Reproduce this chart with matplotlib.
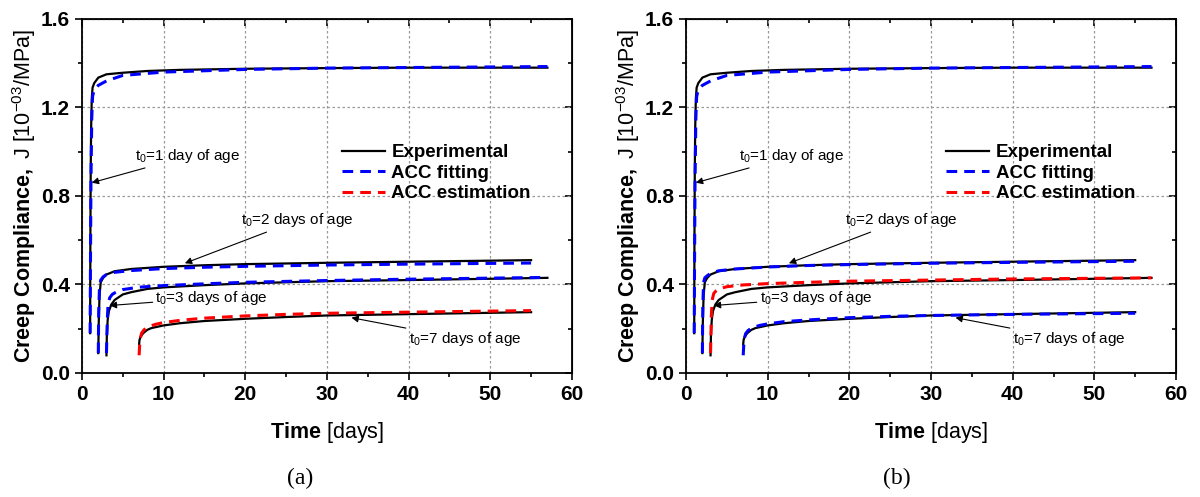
import numpy as np
import matplotlib.pyplot as plt
from matplotlib.lines import Line2D

plt.rcParams['font.family'] = ['Liberation Sans', 'DejaVu Sans']
plt.rcParams['mathtext.fontset'] = 'custom'
plt.rcParams['mathtext.rm'] = 'Liberation Sans'
plt.rcParams['mathtext.it'] = 'Liberation Sans:italic'
plt.rcParams['mathtext.bf'] = 'Liberation Sans:bold'

# ---- data (time in days, J in 1e-3/MPa) ----
# t0 = 1 day
exp1_t = [1.0, 1.03, 1.07, 1.12, 1.2, 1.3, 1.5, 2.0, 3.0, 5.0, 8.0, 12.0, 20.0, 30.0, 40.0, 57.0]
exp1_j = [0.18, 0.60, 0.90, 1.10, 1.24, 1.29, 1.31, 1.335, 1.35, 1.357, 1.365, 1.37, 1.375, 1.378, 1.38, 1.38]
fit1_t = [1.0, 1.05, 1.1, 1.2, 1.3, 1.5, 2.0, 3.0, 5.0, 10.0, 20.0, 30.0, 57.0]
fit1_j = [0.18, 0.55, 0.85, 1.15, 1.25, 1.28, 1.30, 1.32, 1.345, 1.36, 1.372, 1.378, 1.385]

# t0 = 2 days
exp2_t = [2.0, 2.05, 2.15, 2.3, 2.6, 3.0, 4.0, 6.0, 10.0, 15.0, 20.0, 30.0, 40.0, 55.0]
exp2_j = [0.09, 0.22, 0.35, 0.41, 0.43, 0.445, 0.46, 0.47, 0.48, 0.487, 0.492, 0.498, 0.503, 0.51]
fit2a_j = [0.09, 0.28, 0.39, 0.42, 0.435, 0.445, 0.455, 0.463, 0.472, 0.478, 0.482, 0.488, 0.492, 0.497]
fit2b_j = [0.09, 0.30, 0.41, 0.43, 0.44, 0.45, 0.462, 0.47, 0.479, 0.486, 0.49, 0.496, 0.50, 0.505]

# t0 = 3 days
exp3_t = [3.0, 3.05, 3.15, 3.3, 3.6, 4.0, 5.0, 6.0, 8.0, 10.0, 15.0, 20.0, 30.0, 40.0, 57.0]
exp3_j = [0.08, 0.17, 0.24, 0.28, 0.31, 0.33, 0.355, 0.365, 0.38, 0.387, 0.397, 0.405, 0.415, 0.42, 0.43]
fit3_t = [3.0, 3.1, 3.2, 3.4, 3.7, 4.0, 5.0, 7.0, 10.0, 15.0, 20.0, 30.0, 40.0, 57.0]
fit3a_j = [0.09, 0.24, 0.31, 0.34, 0.355, 0.362, 0.377, 0.388, 0.395, 0.403, 0.41, 0.418, 0.424, 0.432]
fit3b_j = [0.09, 0.26, 0.33, 0.36, 0.372, 0.38, 0.39, 0.398, 0.404, 0.41, 0.415, 0.42, 0.425, 0.43]

# t0 = 7 days
exp7_t = [7.0, 7.05, 7.2, 7.5, 8.0, 8.5, 10.0, 12.0, 15.0, 20.0, 25.0, 30.0, 40.0, 55.0]
exp7_j = [0.13, 0.15, 0.165, 0.18, 0.195, 0.203, 0.215, 0.225, 0.235, 0.245, 0.253, 0.26, 0.266, 0.275]
fit7_t = [7.0, 7.1, 7.3, 7.6, 8.0, 9.0, 10.0, 12.0, 15.0, 20.0, 25.0, 30.0, 40.0, 55.0]
fit7a_j = [0.08, 0.15, 0.18, 0.195, 0.207, 0.22, 0.228, 0.238, 0.248, 0.258, 0.265, 0.27, 0.275, 0.282]
fit7b_j = [0.08, 0.15, 0.178, 0.192, 0.203, 0.215, 0.222, 0.232, 0.24, 0.25, 0.256, 0.26, 0.265, 0.27]

labels = ['Experimental', 'ACC fitting', 'ACC estimation']
panel_tags = ['(a)', '(b)']

# annotation text / arrow tip / text position
notes = [
    (r't$_0$=1 day of age', (1.2, 0.86), (6.5, 0.98)),
    (r't$_0$=2 days of age', (12.6, 0.496), (19.5, 0.69)),
    (r't$_0$=3 days of age', (3.4, 0.305), (9.0, 0.34)),
    (r't$_0$=7 days of age', (33.0, 0.25), (40.0, 0.152)),
]

BLUE = '#0000ff'
RED = '#ff0000'
DASH = (0, (3.5, 2.3))

fig = plt.figure(figsize=(12, 4.97), dpi=100)
ax_a = fig.add_axes([0.0683, 0.2495, 0.4083, 0.7123])
ax_b = fig.add_axes([0.5717, 0.2495, 0.4083, 0.7123])

panels = [
    (ax_a, fit2a_j, fit3a_j, fit7a_j, [BLUE, BLUE, BLUE, RED], 0.25),
    (ax_b, fit2b_j, fit3b_j, fit7b_j, [BLUE, BLUE, RED, BLUE], 0.747),
]

for k, (ax, f2, f3, f7, cols, tag_x) in enumerate(panels):
    for t, j in [(exp1_t, exp1_j), (exp2_t, exp2_j), (exp3_t, exp3_j), (exp7_t, exp7_j)]:
        ax.plot(t, j, color='black', lw=1.6, zorder=3)
    fits = [(fit1_t, fit1_j), (exp2_t, f2), (fit3_t, f3), (fit7_t, f7)]
    for (t, j), c in zip(fits, cols):
        ax.plot(t, j, color=c, lw=2.2, linestyle=DASH, zorder=4)

    ax.set_xlim(0, 60)
    ax.set_ylim(0, 1.6)
    ax.set_xticks(np.arange(0, 61, 10))
    ax.set_xticks(np.arange(5, 60, 10), minor=True)
    ax.set_yticks([0.0, 0.4, 0.8, 1.2, 1.6])
    ax.set_yticks([0.2, 0.6, 1.0, 1.4], minor=True)
    ax.set_yticklabels(['0.0', '0.4', '0.8', '1.2', '1.6'])
    ax.grid(which='major', color='#999999', linestyle=(0, (2, 2)), lw=0.9)
    ax.tick_params(which='major', direction='out', length=5, width=1.2,
                   labelsize=15)
    ax.tick_params(which='minor', direction='out', length=3, width=1.2)
    for lab in ax.get_xticklabels() + ax.get_yticklabels():
        lab.set_fontweight('bold')
    for sp in ax.spines.values():
        sp.set_linewidth(1.3)

    # mirrored ticks pointing inward on top and right
    top = ax.secondary_xaxis('top')
    top.set_xticks(np.arange(0, 61, 10))
    top.set_xticks(np.arange(5, 60, 10), minor=True)
    top.tick_params(which='major', direction='in', length=5, width=1.2, labeltop=False)
    top.tick_params(which='minor', direction='in', length=3, width=1.2)
    right = ax.secondary_yaxis('right')
    right.set_yticks([0.0, 0.4, 0.8, 1.2, 1.6])
    right.set_yticks([0.2, 0.6, 1.0, 1.4], minor=True)
    right.tick_params(which='major', direction='in', length=5, width=1.2, labelright=False)
    right.tick_params(which='minor', direction='in', length=3, width=1.2)

    ax.set_xlabel(r'$\mathbf{Time}$ [days]', fontsize=15.5, labelpad=12)
    ax.set_ylabel(r'$\mathbf{Creep\ Compliance,}$ J [10$^{-03}$/MPa]', fontsize=15.5,
                  labelpad=2)

    for txt, tip, pos in notes:
        ax.annotate(txt, xy=tip, xytext=pos, fontsize=11, va='center', ha='left',
                    arrowprops=dict(arrowstyle='-|>', color='black', lw=0.8,
                                    mutation_scale=10, shrinkA=0, shrinkB=0),
                    zorder=6)

    handles = [Line2D([], [], color='black', lw=1.6),
               Line2D([], [], color=BLUE, lw=2.2, linestyle=DASH),
               Line2D([], [], color=RED, lw=2.2, linestyle=DASH)]
    ax.legend(handles, labels, loc='upper left', bbox_to_anchor=(0.515, 0.668),
              frameon=False, handlelength=2.3, handletextpad=0.35,
              labelspacing=0.18, borderaxespad=0,
              prop={'weight': 'bold', 'size': 13.5})

    fig.text(tag_x, 0.038, panel_tags[k], ha='center', va='center',
             fontsize=17, family='Liberation Serif')

fig.savefig('out.png', dpi=100)
